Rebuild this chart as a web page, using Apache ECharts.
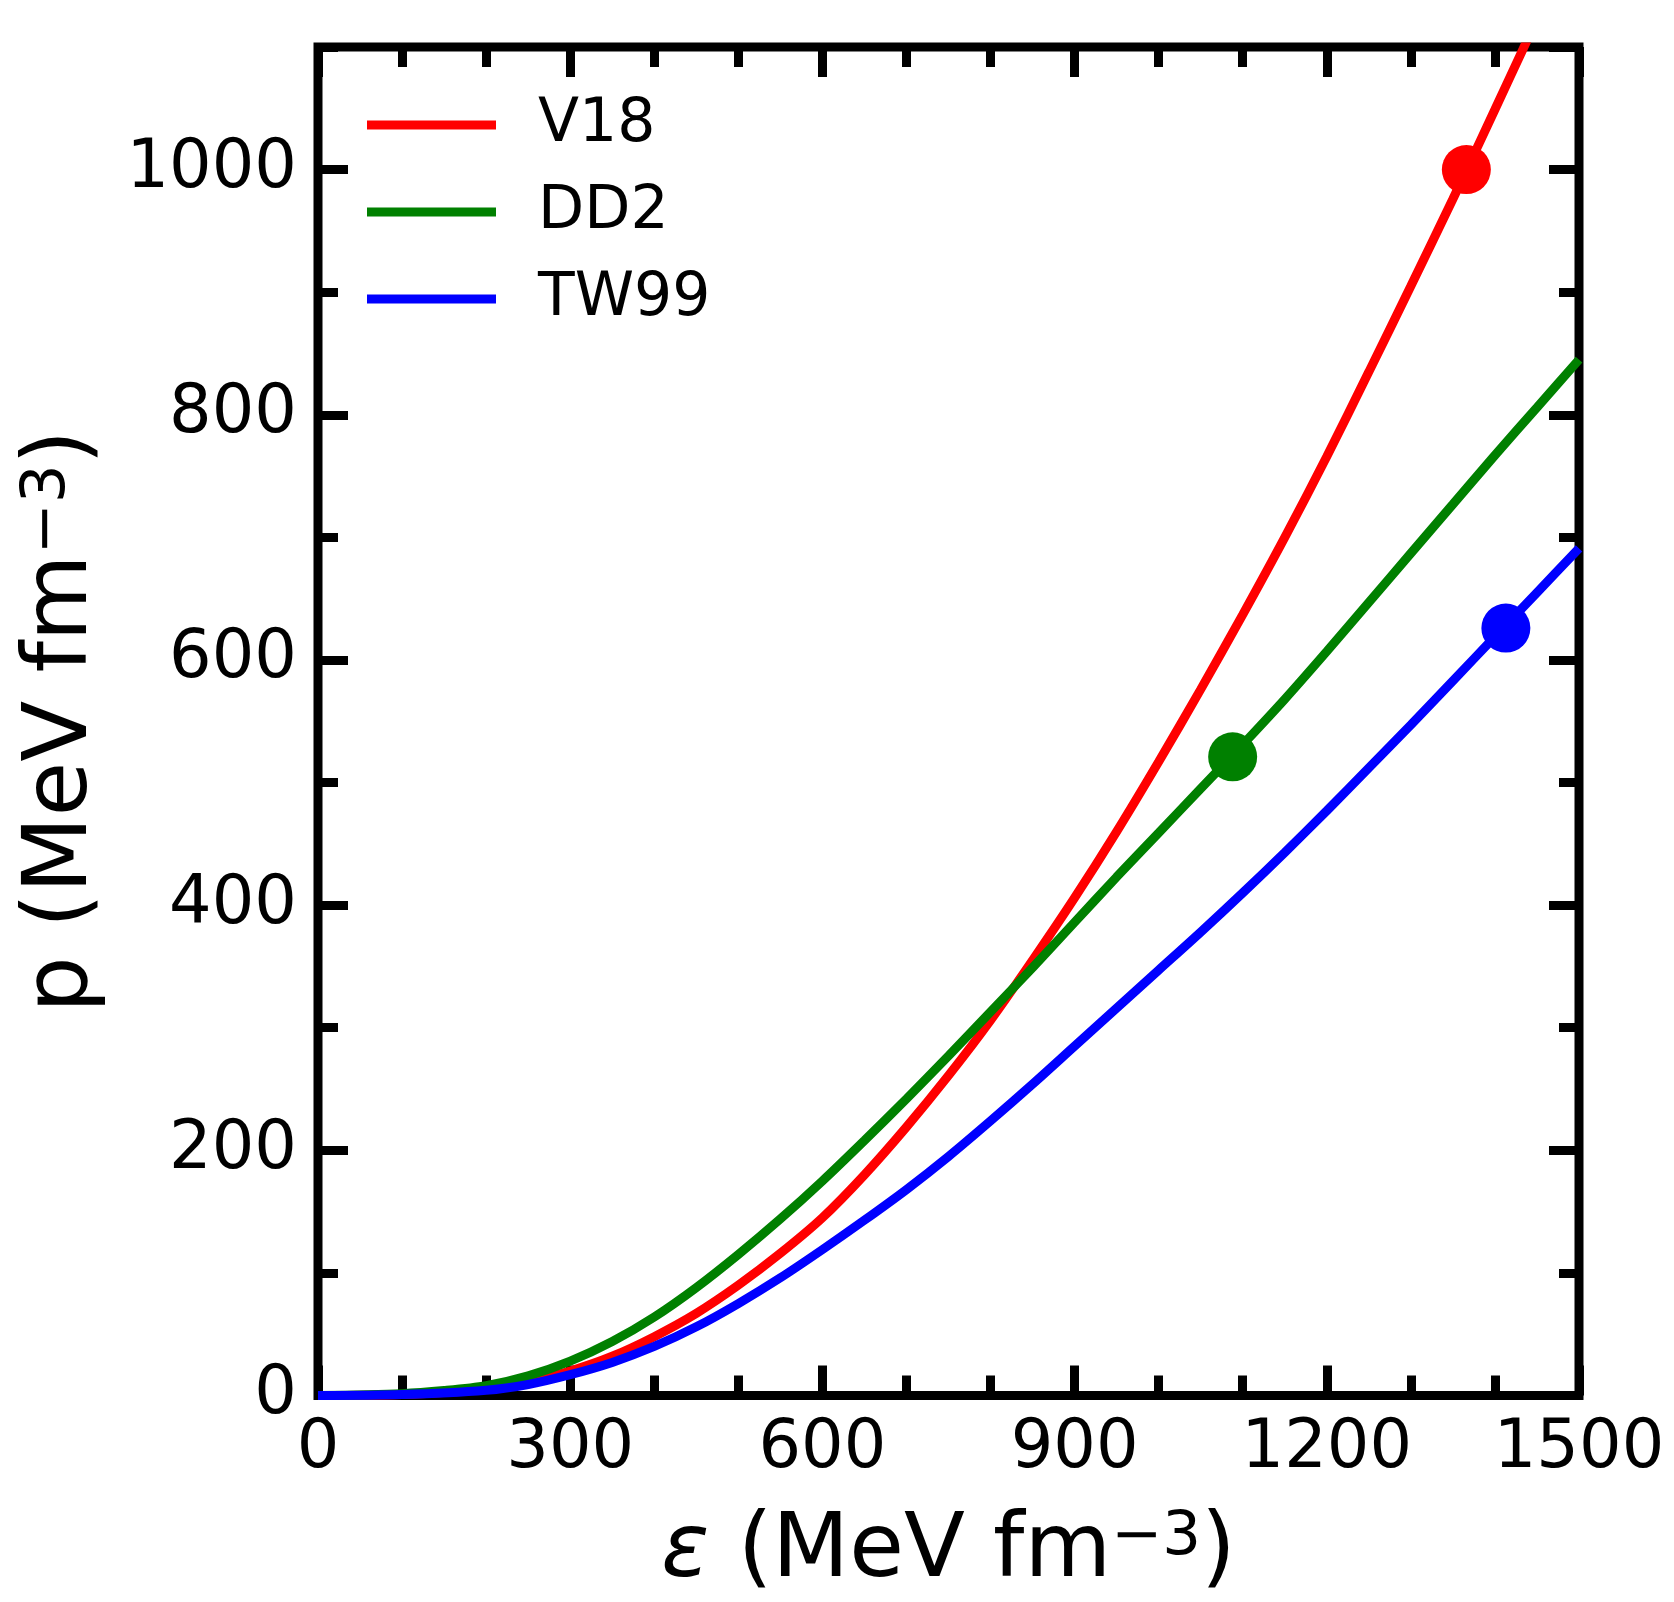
<!DOCTYPE html>
<html><head><meta charset="utf-8">
<script src="https://cdn.jsdelivr.net/npm/echarts@6.0.0/dist/echarts.min.js"></script>
<style>html,body{margin:0;padding:0;background:#fff}#c{width:1674px;height:1602px}</style>
</head><body><div id="c"></div>
<script>
// energy density epsilon (MeV fm^-3) and pressure p (MeV fm^-3)
const v18X = [0,100,200,250,300,350,400,450,500,550,600,650,700,750,800,850,900,950,1000,1050,1100,1150,1200,1250,1300,1350,1400,1440];
const v18Y = [0,0.8,5,11,20,32,48,67,90,116,145,180,219,261,306,355,406,460,517,576,637,700,766,835,905,976,1049,1108];
const dd2X = [0,100,150,200,250,300,350,400,450,500,550,600,650,700,750,800,850,900,950,1000,1050,1100,1150,1200,1250,1300,1350,1400,1450,1500];
const dd2Y = [0,1.5,4,8,16,28,44,64,88,115,144,175,208,242,277,313,349,386,423,459,495,531,568,607,647,687,727,767,806,845];
const tw99X = [0,100,200,250,300,350,400,450,500,550,600,650,700,750,800,850,900,950,1000,1050,1100,1150,1200,1250,1300,1350,1400,1450,1500];
const tw99Y = [0,0.8,4.3,9,17,27,40,56,75,96,119,143,168,195,224,254,285,316,347,378,410,443,477,512,547,583,619,655,691];
// marked points (x, y)
const v18Dot = [1366, 1000];
const dd2Dot = [1088, 521];
const tw99Dot = [1413, 626];
const seriesNames = ['V18', 'DD2', 'TW99'];
const colors = ['#ff0000', '#008000', '#0000ff'];

const zip = (xs, ys) => xs.map((x, i) => [x, ys[i]]);
const FONT = 'DejaVu Sans';
const tickStyle = {color: '#000', width: 9};

function axisSet(dim) {
  const isX = dim === 'x';
  const max = isX ? 1500 : 1100;
  const major = isX ? 300 : 200;
  const pos = isX ? ['bottom', 'top'] : ['left', 'right'];
  const base = {type: 'value', min: 0, max: max, splitLine: {show: false},
    axisLine: {show: false, onZero: false}};
  const out = [];
  out.push(Object.assign({}, base, {
    position: pos[0], interval: major,
    axisTick: {inside: true, length: 30, lineStyle: tickStyle},
    axisLabel: {fontSize: 67, color: '#000', fontFamily: FONT, margin: 21,
      showMaxLabel: isX, formatter: v => String(v)}
  }));
  out.push(Object.assign({}, base, {position: pos[0], interval: 100,
    axisTick: {inside: true, length: 20, lineStyle: tickStyle}, axisLabel: {show: false}}));
  out.push(Object.assign({}, base, {position: pos[1], interval: major,
    axisTick: {inside: true, length: 30, lineStyle: tickStyle}, axisLabel: {show: false}}));
  out.push(Object.assign({}, base, {position: pos[1], interval: 100,
    axisTick: {inside: true, length: 20, lineStyle: tickStyle}, axisLabel: {show: false}}));
  return out;
}

const xAxes = axisSet('x');
const yAxes = axisSet('y');
const nameRich = {
  a: {fontSize: 89, fontFamily: FONT, color: '#000', lineHeight: 90},
  e: {fontSize: 89, fontFamily: FONT, color: '#000', lineHeight: 90, fontStyle: 'italic'},
  s: {fontSize: 61, fontFamily: FONT, color: '#000', lineHeight: 62, verticalAlign: 'top'}
};
Object.assign(xAxes[0], {name: '{e|ε}{a| (MeV fm}{s|−3}{a|)}', nameLocation: 'middle', nameGap: 112,
  nameTextStyle: {rich: nameRich}});
Object.assign(yAxes[0], {name: '{a|p (MeV fm}{s|−3}{a|)}', nameLocation: 'middle', nameGap: 210,
  nameTextStyle: {rich: nameRich}});

const lineData = [zip(v18X, v18Y), zip(dd2X, dd2Y), zip(tw99X, tw99Y)];
const dots = [v18Dot, dd2Dot, tw99Dot];
const series = [];
seriesNames.forEach((n, i) => {
  series.push({name: n, type: 'line', data: lineData[i], showSymbol: false, symbol: 'none',
    smooth: 0.3, lineStyle: {color: colors[i], width: 9},
    itemStyle: {color: colors[i]}, z: 2});
});
seriesNames.forEach((n, i) => {
  series.push({type: 'scatter', data: [dots[i]], symbolSize: 49,
    itemStyle: {color: colors[i], opacity: 1}, z: 3});
});

const chart = echarts.init(document.getElementById('c'), null, {renderer: 'canvas'});
chart.setOption({
  animation: false,
  backgroundColor: '#fff',
  grid: {left: 318, right: 95, top: 47, bottom: 200, show: true, borderColor: '#000', borderWidth: 9, backgroundColor: 'transparent'},
  legend: {data: seriesNames, orient: 'vertical', left: 367, top: 95, padding: 0, icon: 'rect',
    itemWidth: 129, itemHeight: 9, itemGap: 27,
    textStyle: {fontSize: 60, lineHeight: 60, color: '#000', fontFamily: FONT, padding: [0, 0, 0, 37]}},
  xAxis: xAxes,
  yAxis: yAxes,
  series: series
});
</script></body></html>
